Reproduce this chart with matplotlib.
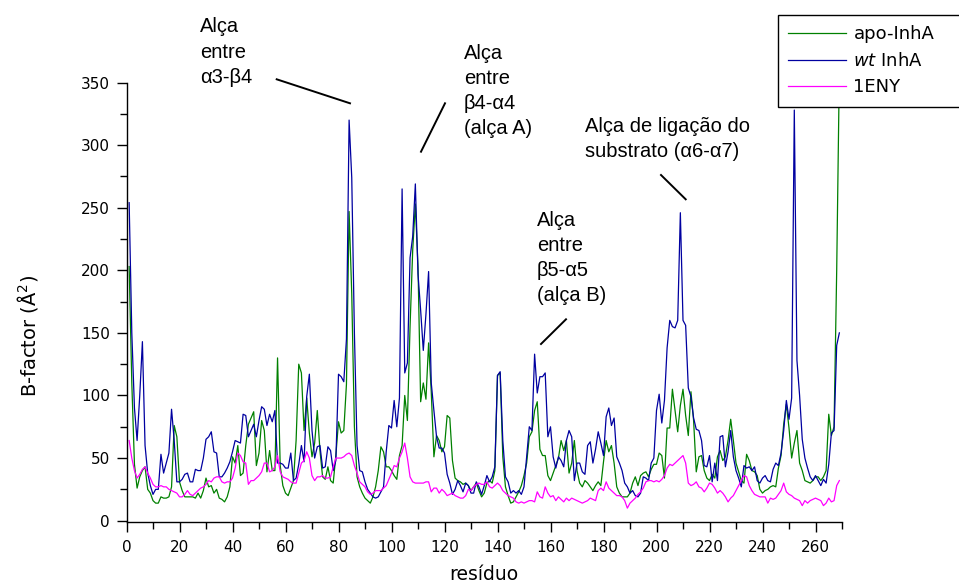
import numpy as np
import matplotlib
matplotlib.use("Agg")
import matplotlib.pyplot as plt
from matplotlib.lines import Line2D
from matplotlib.ticker import MultipleLocator

plt.rcParams['font.family'] = ['DejaVu Sans']
plt.rcParams['mathtext.fontset'] = 'dejavusans'

# B-factor per residue (1..269)
residues = np.arange(1, 270)

apo_inha = [
    203, 110, 45, 26, 35, 40, 43, 25, 22, 16,
    14, 14, 19, 18, 18, 19, 27, 76, 67, 31,
    24, 19, 19, 19, 19, 18, 22, 18, 24, 34,
    27, 28, 22, 25, 18, 17, 15, 19, 27, 51,
    46, 60, 36, 38, 60, 77, 82, 87, 44, 54,
    80, 72, 39, 56, 40, 40, 130, 44, 28, 22,
    20, 26, 32, 64, 125, 118, 72, 98, 70, 51,
    62, 88, 56, 35, 33, 43, 32, 30, 52, 79,
    70, 72, 109, 247, 181, 75, 35, 27, 22, 18,
    16, 14, 19, 27, 40, 59, 55, 43, 43, 40,
    36, 33, 52, 60, 100, 80, 155, 216, 253, 203,
    95, 110, 97, 142, 103, 51, 68, 64, 55, 59,
    84, 82, 48, 34, 32, 31, 29, 30, 28, 24,
    27, 30, 24, 19, 22, 30, 32, 30, 40, 116,
    118, 51, 27, 20, 14, 15, 19, 23, 28, 36,
    46, 67, 71, 88, 95, 57, 52, 52, 36, 32,
    38, 44, 50, 64, 56, 64, 38, 46, 64, 40,
    30, 27, 32, 30, 27, 24, 28, 31, 28, 47,
    64, 55, 60, 46, 27, 22, 19, 19, 19, 22,
    30, 35, 28, 36, 38, 39, 35, 41, 45, 45,
    54, 52, 34, 74, 74, 105, 88, 71, 92, 105,
    84, 68, 103, 80, 39, 51, 52, 40, 34, 32,
    37, 34, 51, 56, 48, 51, 64, 81, 64, 46,
    39, 32, 30, 53, 48, 40, 39, 36, 25, 22,
    24, 25, 27, 28, 27, 42, 52, 77, 93, 74,
    50, 62, 72, 46, 40, 32, 31, 30, 32, 35,
    35, 32, 35, 40, 85, 68, 75, 200, 360,
]

wt_inha = [
    254, 150, 90, 64, 100, 143, 60, 38, 28, 21,
    25, 25, 53, 38, 46, 54, 89, 64, 31, 31,
    33, 37, 38, 31, 31, 41, 40, 40, 50, 65,
    67, 71, 55, 54, 35, 35, 38, 42, 47, 55,
    64, 63, 62, 85, 84, 67, 72, 77, 67, 80,
    91, 89, 76, 85, 79, 88, 46, 46, 45, 42,
    42, 54, 32, 34, 45, 60, 47, 99, 117, 72,
    50, 59, 60, 42, 43, 59, 56, 40, 48, 117,
    115, 111, 145, 320, 274, 150, 60, 40, 39, 31,
    25, 22, 19, 18, 19, 23, 27, 55, 76, 74,
    96, 75, 98, 265, 118, 126, 210, 227, 269, 197,
    168, 136, 165, 199, 110, 88, 67, 58, 58, 54,
    37, 30, 21, 25, 32, 28, 23, 30, 28, 22,
    22, 31, 27, 21, 28, 36, 31, 35, 43, 116,
    119, 64, 35, 31, 22, 24, 22, 24, 21, 27,
    51, 75, 72, 133, 102, 115, 115, 118, 67, 75,
    51, 42, 51, 48, 43, 64, 72, 67, 32, 46,
    46, 39, 37, 60, 63, 46, 57, 71, 62, 52,
    83, 90, 76, 82, 51, 46, 40, 30, 27, 22,
    24, 20, 19, 22, 35, 34, 32, 46, 50, 88,
    101, 78, 96, 138, 160, 155, 154, 160, 246, 160,
    156, 106, 99, 82, 73, 72, 64, 44, 43, 52,
    31, 46, 32, 67, 68, 43, 55, 72, 51, 40,
    34, 27, 44, 42, 43, 40, 43, 32, 30, 34,
    36, 32, 31, 41, 46, 44, 54, 72, 96, 81,
    98, 328, 128, 100, 65, 50, 42, 35, 32, 36,
    32, 28, 33, 30, 45, 70, 72, 140, 150,
]

eny_1 = [
    64, 50, 40, 34, 37, 41, 43, 38, 34, 29,
    27, 27, 28, 27, 27, 25, 24, 23, 22, 19,
    19, 21, 24, 21, 20, 22, 24, 26, 27, 29,
    32, 31, 34, 35, 35, 31, 30, 31, 31, 34,
    42, 54, 52, 47, 46, 29, 32, 32, 34, 36,
    39, 46, 46, 39, 40, 43, 52, 39, 35, 34,
    33, 31, 30, 30, 38, 46, 48, 55, 50, 36,
    32, 35, 35, 36, 34, 34, 35, 43, 50, 50,
    50, 51, 53, 54, 52, 44, 38, 31, 29, 27,
    23, 21, 22, 24, 24, 24, 26, 28, 33, 38,
    44, 43, 50, 55, 62, 50, 35, 31, 30, 30,
    30, 30, 31, 31, 23, 26, 26, 22, 25, 23,
    20, 21, 22, 20, 19, 18, 18, 20, 25, 24,
    27, 29, 30, 29, 29, 31, 27, 26, 28, 30,
    28, 24, 22, 20, 19, 18, 15, 14, 15, 14,
    15, 16, 16, 15, 23, 19, 18, 27, 22, 19,
    20, 16, 19, 17, 15, 18, 16, 18, 17, 16,
    15, 14, 15, 16, 18, 17, 16, 24, 26, 24,
    31, 26, 24, 22, 20, 20, 19, 16, 10, 14,
    16, 18, 21, 23, 26, 31, 32, 32, 31, 32,
    31, 33, 36, 42, 45, 44, 46, 48, 50, 52,
    46, 30, 28, 29, 31, 27, 26, 23, 26, 30,
    29, 26, 22, 24, 22, 19, 15, 18, 20, 24,
    28, 32, 36, 35, 28, 24, 21, 20, 19, 19,
    19, 14, 18, 17, 18, 21, 24, 30, 23, 21,
    20, 18, 17, 16, 12, 16, 14, 16, 17, 18,
    17, 16, 12, 14, 18, 15, 16, 28, 32,
]

series_labels = ['apo-InhA', r'$\it{wt}$ InhA', '1ENY']
series_colors = ['#008000', '#0000A0', '#FF00FF']

W, H = 959, 586
fig = plt.figure(figsize=(W / 100, H / 100), dpi=100)
ax = fig.add_axes([126.5 / W, 1 - 521.9 / H, 715.5 / W, (521.9 - 60) / H])

lines = []
for vals, col in zip([apo_inha, wt_inha, eny_1], series_colors):
    ln, = ax.plot(residues, vals, color=col, lw=0.9)
    lines.append(ln)

ax.set_xlim(0, 270)
ax.set_ylim(-1, 368)
ax.spines['top'].set_visible(False)
ax.spines['right'].set_visible(False)
ax.spines['left'].set_bounds(-1, 350)
ax.spines['bottom'].set_bounds(0, 270)
for sp in ('left', 'bottom'):
    ax.spines[sp].set_linewidth(1.0)

ax.set_xticks(np.arange(0, 261, 20))
ax.xaxis.set_minor_locator(MultipleLocator(10))
ax.set_yticks(np.arange(0, 351, 50))
ax.set_yticks(np.arange(25, 351, 50), minor=True)
ax.tick_params(axis='both', which='major', direction='out', length=7,
               width=1.0, labelsize=11)
ax.tick_params(axis='both', which='minor', direction='out', length=5, width=1.0)
ax.tick_params(axis='y', which='major', pad=5)
ax.tick_params(axis='x', which='major', pad=6)


def fx(px):
    return px / W


def fy(py):
    return 1 - py / H


fig.text(fx(484), fy(580), 'resíduo', ha='center', va='baseline', fontsize=13.5)
fig.text(fx(27), fy(336), 'B-factor (Å$^2$)', rotation=90,
         ha='center', va='center', fontsize=14)

notes = [
    ('Alça\nentre\nα3-β4', 200, 52, (276.7, 79.3), (350, 103.3)),
    ('Alça\nentre\nβ4-α4\n(alça A)', 464, 91, (445, 103.3), (421, 151.7)),
    ('Alça\nentre\nβ5-α5\n(alça B)', 537, 258, (566, 319.3), (541, 344)),
    ('Alça de ligação do\nsubstrato (α6-α7)', 585, 139, (661, 175), (685.7, 199.3)),
]
for txt, tx, ty, p0, p1 in notes:
    fig.text(fx(tx), fy(ty), txt, ha='left', va='center', fontsize=14.5,
             linespacing=1.42, family=['Liberation Sans', 'DejaVu Sans'])
    fig.add_artist(Line2D([fx(p0[0]), fx(p1[0])], [fy(p0[1]), fy(p1[1])],
                          color='black', lw=1.4))

# legend box runs off the right edge of the figure
leg = fig.legend(lines, series_labels, loc='upper left',
                 bbox_to_anchor=(778 / W, fy(107), 195 / W, 92 / H),
                 mode='expand', fontsize=13, frameon=True, fancybox=False,
                 edgecolor='black', facecolor='white', framealpha=1,
                 handlelength=3.2, handletextpad=0.4, labelspacing=0.47,
                 borderpad=0.58, borderaxespad=0)
leg.get_frame().set_linewidth(1.0)

fig.savefig('out.png', dpi=100)
